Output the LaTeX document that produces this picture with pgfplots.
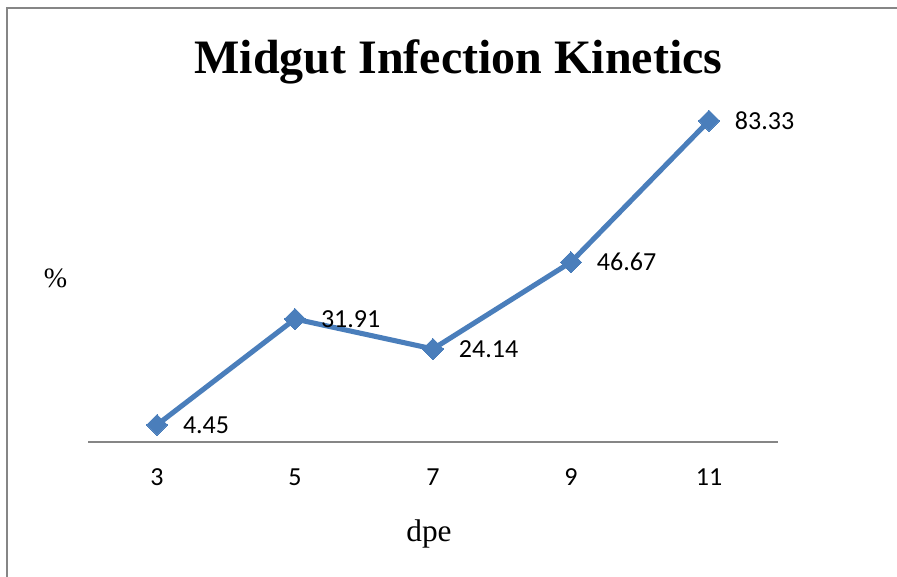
\documentclass[border=0pt]{standalone}
\usepackage{fontspec}
\setmainfont{Liberation Serif}
\newfontfamily\calibri{Carlito}
\usepackage{pgfplots}
\usepackage{pgfplotstable}
\pgfplotsset{compat=1.18}
\definecolor{serblue}{HTML}{4A7EBB}
\definecolor{axgray}{HTML}{868686}
\pgfplotstableread{
x y lab
0 4.45 4.45
1 31.91 31.91
2 24.14 24.14
3 46.67 46.67
4 83.33 83.33
}\datatable
\begin{document}
\begin{tikzpicture}
\useasboundingbox (0,0) rectangle (672.75pt,432pt);
\draw[axgray, line width=1.5pt] (5.25pt,-2pt) -- (5.25pt,426pt) -- (675pt,426pt);
\begin{axis}[
  at={(66pt,100.5pt)}, anchor=south west,
  scale only axis, width=517.5pt, height=260.2pt,
  xmin=-0.5, xmax=4.5, ymin=0, ymax=90,
  axis x line*=bottom, axis y line=none,
  x axis line style={axgray, line width=1.4pt},
  xtick={0,1,2,3,4}, xticklabels={3,5,7,9,11},
  major tick length=0pt,
  xticklabel style={font=\calibri\fontsize{19.5}{19.5}\selectfont, inner sep=0pt, anchor=north, yshift=-20pt},
  clip=false,
  point meta=explicit symbolic,
  nodes near coords,
  every node near coord/.append style={font=\calibri\fontsize{19.5}{19.5}\selectfont, anchor=west, inner sep=0pt, xshift=19.5pt, yshift=0pt, text=black},
]
\addplot[serblue, line width=3.8pt, mark=square*, mark size=5.6pt, mark options={rotate=45, fill=serblue, draw=serblue, line width=0pt}]
  table[x=x, y=y, meta=lab] {\datatable};
\end{axis}
\node[font=\bfseries\fontsize{36}{36}\selectfont, anchor=base, inner sep=0pt] at (343.9pt,377pt) {Midgut Infection Kinetics};
\node[font=\fontsize{21}{21}\selectfont, anchor=base, inner sep=0pt] at (41.6pt,216pt) {\%};
\node[font=\fontsize{23.5}{23.5}\selectfont, anchor=base, inner sep=0pt] at (321.75pt,26.25pt) {dpe};
\end{tikzpicture}
\end{document}
